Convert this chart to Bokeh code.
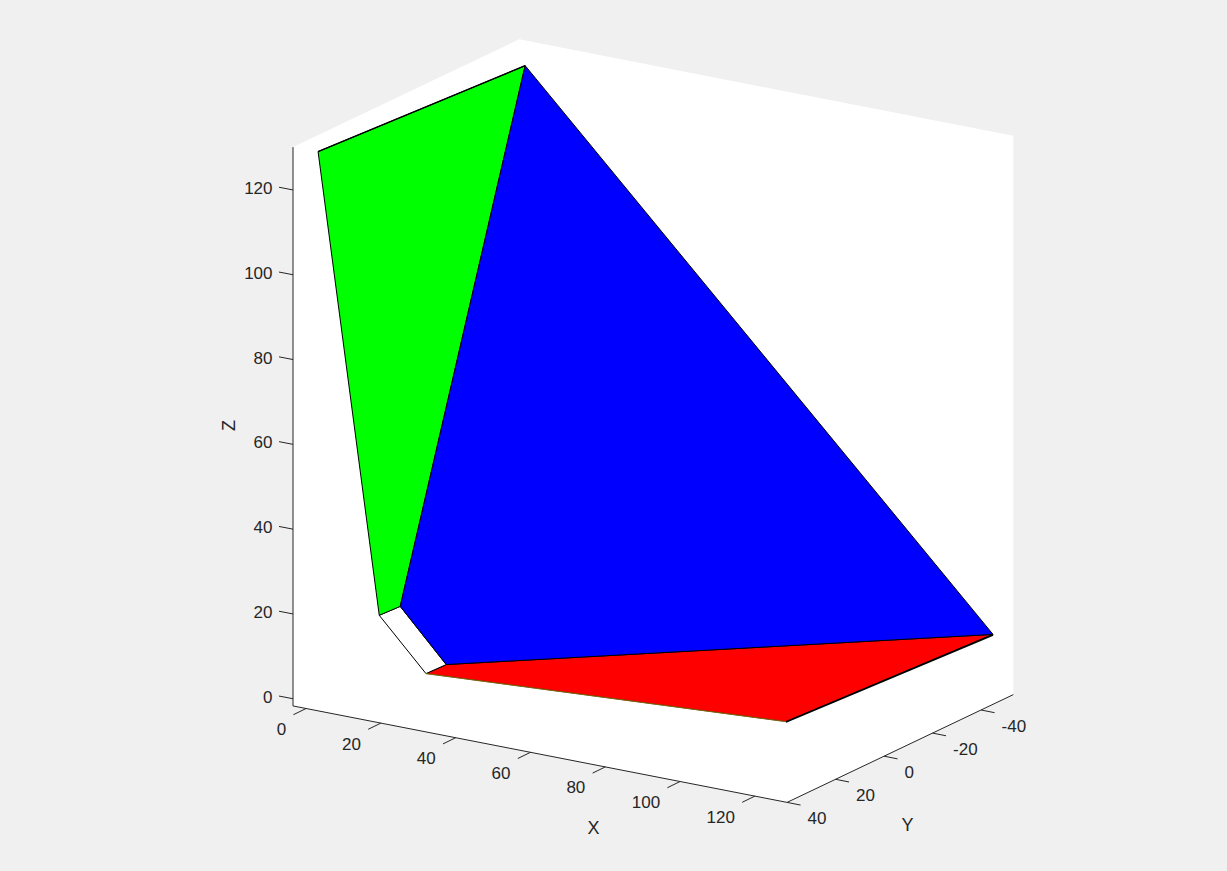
import numpy as np
from bokeh.plotting import figure
from bokeh.models import Range1d
from bokeh.embed import file_html
from bokeh.resources import INLINE
from bokeh.core.properties import value

# Axis limits (data units)
x_lim = [-3.5, 128.6]
y_lim = [-53.3, 40.0]
z_lim = [-1.7, 130.1]

# Tick values
x_ticks = [0, 20, 40, 60, 80, 100, 120]
y_ticks = [-40, -20, 0, 20, 40]
z_ticks = [0, 20, 40, 60, 80, 100, 120]

# Surface vertices (X, Y, Z)
green_x = [3.2, 3.2, 1.5, 1.4]
green_y = [40.0, -45.4, 3.5, 12.0]
green_z = [130.2, 127.2, 12.7, 12.9]

blue_x = [3.2, 128.3, 13.8, 1.5]
blue_y = [-45.4, -45.4, 3.5, 3.5]
blue_z = [127.2, 14.6, 1.1, 12.7]

red_x = [128.3, 128.3, 13.9, 13.8]
red_y = [-45.4, 40.0, 12.0, 3.5]
red_z = [14.6, 17.3, 1.3, 1.1]

white_x = [1.4, 1.5, 13.8, 13.9]
white_y = [12.0, 3.5, 3.5, 12.0]
white_z = [12.9, 12.7, 1.1, 1.3]

# Yellow sliver showing along the lower edge of the red face
yellow_x = [13.9, 128.3]
yellow_y = [12.0, 40.0]
yellow_z = [1.3, 17.3]

# Black edges doubled by a hidden face
dark_x = [128.3, 128.3]
dark_y = [40.0, -45.4]
dark_z = [17.2, 14.5]

top_x = [3.2, 3.2]
top_y = [40.0, -45.4]
top_z = [130.2, 127.2]


# Orthographic view of the 3D axes onto the page
def proj(x, y, z):
    x, y, z = np.asarray(x, float), np.asarray(y, float), np.asarray(z, float)
    sx = 305.6 + 3.74 * x - 2.425 * (y - 40)
    sy = 700.8 + 0.73 * x + 1.155 * (y - 40) - 4.24 * z
    return sx, sy


BG = "#f0f0f0"
INK = "#262626"
FONT = value("Liberation Sans")

p = figure(width=1211, height=855, output_backend="svg", toolbar_location=None,
           x_range=Range1d(0, 1211), y_range=Range1d(855, 0),
           background_fill_color=BG, border_fill_color=BG, min_border=0)
p.axis.visible = False
p.grid.visible = False
p.outline_line_color = None

xa, xb = x_lim
ya, yb = y_lim
za, zb = z_lim

# Plot box
hx, hy = proj([xa, xa, xb, xb, xb, xa], [yb, ya, ya, ya, yb, yb], [zb, zb, zb, za, za, za])
p.patch(hx, hy, fill_color="white", line_color=None)

# Faces
for fx, fy, fz, col in [(red_x, red_y, red_z, "#ff0000"),
                        (white_x, white_y, white_z, "#ffffff"),
                        (green_x, green_y, green_z, "#00ff00"),
                        (blue_x, blue_y, blue_z, "#0000ff")]:
    sx, sy = proj(fx, fy, fz)
    p.patch(sx, sy, fill_color=col, line_color="black", line_width=1)

sx, sy = proj(dark_x, dark_y, dark_z)
p.line(sx, sy, line_color="black", line_width=1.8)
sx, sy = proj(top_x, top_y, top_z)
p.line(sx, sy, line_color="black", line_width=1.5)
sx, sy = proj(yellow_x, yellow_y, yellow_z)
p.line(sx, sy, line_color="#ffc800", line_alpha=0.5, line_width=1)

# Axis lines
ax_x, ax_y = proj([xa, xa, xb, xb], [yb, yb, yb, ya], [zb, za, za, za])
p.line(ax_x, ax_y, line_color=INK, line_width=1)

# X ticks
tx, ty = proj(x_ticks, [yb] * len(x_ticks), [za] * len(x_ticks))
p.segment(tx, ty, tx - 12.7, ty + 6.2, line_color=INK, line_width=1)
p.text(tx - 20, ty + 20.5, text=[str(v) for v in x_ticks], text_font=FONT, text_font_size="17px",
       text_color=INK, text_align="right", text_baseline="middle")

# Y ticks
tx, ty = proj([xb] * len(y_ticks), y_ticks, [za] * len(y_ticks))
p.segment(tx, ty, tx + 13.5, ty + 2.7, line_color=INK, line_width=1)
p.text(tx + 20.5, ty + 16, text=[str(v) for v in y_ticks], text_font=FONT, text_font_size="17px",
       text_color=INK, text_align="left", text_baseline="middle")

# Z ticks
tx, ty = proj([xa] * len(z_ticks), [yb] * len(z_ticks), z_ticks)
p.segment(tx, ty, tx - 14, ty - 2.7, line_color=INK, line_width=1)
p.text(tx - 20.5, ty - 2, text=[str(v) for v in z_ticks], text_font=FONT, text_font_size="17px",
       text_color=INK, text_align="right", text_baseline="middle")

# Axis titles
p.text([593], [827], text=["X"], text_font=FONT, text_font_size="18px", text_color=INK,
       text_align="center", text_baseline="middle")
p.text([907], [824], text=["Y"], text_font=FONT, text_font_size="18px", text_color=INK,
       text_align="center", text_baseline="middle")
p.text([228], [425], text=["Z"], text_font=FONT, text_font_size="18px", text_color=INK,
       text_align="center", text_baseline="middle", angle=np.pi / 2)

html = file_html(p, INLINE)
html = html.replace("<head>", "<head><style>html,body{background:#f0f0f0;overflow:hidden}</style>", 1)
open("out.html", "w").write(html)
